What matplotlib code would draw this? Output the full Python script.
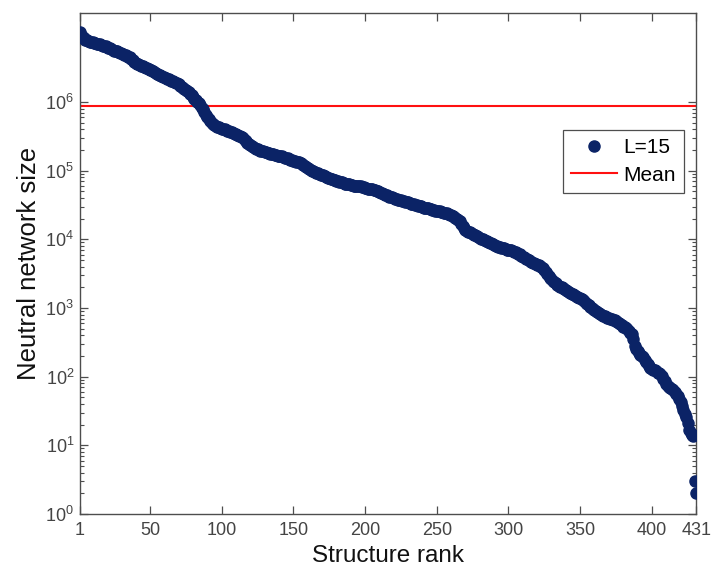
import numpy as np
import matplotlib
matplotlib.use("Agg")
import matplotlib.pyplot as plt
from matplotlib.ticker import FixedLocator, NullFormatter, LogFormatterSciNotation

plt.rcParams['font.family'] = ['Liberation Sans', 'DejaVu Sans']
plt.rcParams['mathtext.default'] = 'regular'

# log10 of neutral network size, structures ordered by rank (1..431)
size_log10 = [
    7.02, 6.98, 6.95, 6.93, 6.91, 6.90, 6.89, 6.88, 6.88, 6.87,
    6.86, 6.86, 6.85, 6.84, 6.84, 6.83, 6.82, 6.81, 6.81, 6.80,
    6.79, 6.78, 6.77, 6.76, 6.75, 6.75, 6.74, 6.73, 6.72, 6.71,
    6.70, 6.69, 6.68, 6.67, 6.66, 6.65, 6.63, 6.61, 6.59, 6.57,
    6.56, 6.55, 6.54, 6.53, 6.52, 6.51, 6.50, 6.49, 6.48, 6.47,
    6.46, 6.45, 6.44, 6.42, 6.41, 6.40, 6.39, 6.38, 6.37, 6.36,
    6.35, 6.34, 6.33, 6.32, 6.31, 6.30, 6.29, 6.28, 6.27, 6.26,
    6.24, 6.22, 6.21, 6.19, 6.18, 6.16, 6.14, 6.12, 6.10, 6.07,
    6.05, 6.03, 6.00, 5.98, 5.95, 5.92, 5.90, 5.85, 5.81, 5.78,
    5.76, 5.73, 5.70, 5.68, 5.66, 5.65, 5.64, 5.63, 5.62, 5.61,
    5.60, 5.60, 5.59, 5.58, 5.58, 5.57, 5.56, 5.55, 5.54, 5.53,
    5.52, 5.51, 5.50, 5.49, 5.47, 5.45, 5.43, 5.41, 5.39, 5.37,
    5.36, 5.35, 5.33, 5.32, 5.31, 5.30, 5.29, 5.28, 5.28, 5.27,
    5.27, 5.26, 5.26, 5.25, 5.24, 5.24, 5.23, 5.23, 5.22, 5.22,
    5.21, 5.21, 5.20, 5.19, 5.18, 5.18, 5.17, 5.16, 5.15, 5.14,
    5.14, 5.13, 5.12, 5.12, 5.11, 5.10, 5.08, 5.07, 5.05, 5.04,
    5.02, 5.01, 5.00, 4.99, 4.98, 4.97, 4.96, 4.95, 4.94, 4.93,
    4.93, 4.92, 4.91, 4.90, 4.89, 4.88, 4.88, 4.87, 4.86, 4.85,
    4.85, 4.84, 4.83, 4.83, 4.82, 4.81, 4.81, 4.80, 4.80, 4.79,
    4.79, 4.78, 4.78, 4.78, 4.77, 4.77, 4.77, 4.76, 4.76, 4.75,
    4.75, 4.74, 4.74, 4.73, 4.73, 4.72, 4.72, 4.71, 4.70, 4.69,
    4.68, 4.67, 4.66, 4.65, 4.64, 4.63, 4.62, 4.61, 4.61, 4.60,
    4.59, 4.59, 4.58, 4.57, 4.57, 4.56, 4.56, 4.55, 4.54, 4.54,
    4.53, 4.52, 4.52, 4.51, 4.50, 4.50, 4.49, 4.48, 4.48, 4.47,
    4.46, 4.46, 4.45, 4.45, 4.44, 4.44, 4.43, 4.43, 4.42, 4.42,
    4.41, 4.41, 4.40, 4.40, 4.39, 4.39, 4.38, 4.37, 4.36, 4.35,
    4.34, 4.33, 4.31, 4.29, 4.28, 4.26, 4.23, 4.20, 4.17, 4.14,
    4.12, 4.11, 4.10, 4.09, 4.08, 4.07, 4.06, 4.05, 4.04, 4.02,
    4.01, 4.00, 3.99, 3.98, 3.97, 3.96, 3.95, 3.94, 3.93, 3.92,
    3.91, 3.90, 3.89, 3.89, 3.88, 3.87, 3.87, 3.86, 3.85, 3.85,
    3.84, 3.84, 3.83, 3.82, 3.81, 3.80, 3.79, 3.78, 3.76, 3.75,
    3.74, 3.72, 3.71, 3.70, 3.68, 3.67, 3.66, 3.65, 3.64, 3.63,
    3.62, 3.61, 3.60, 3.58, 3.56, 3.53, 3.50, 3.47, 3.44, 3.42,
    3.40, 3.38, 3.36, 3.34, 3.32, 3.31, 3.30, 3.29, 3.28, 3.26,
    3.25, 3.24, 3.22, 3.21, 3.20, 3.19, 3.18, 3.16, 3.15, 3.14,
    3.13, 3.11, 3.10, 3.08, 3.06, 3.04, 3.02, 3.00, 2.98, 2.97,
    2.95, 2.94, 2.92, 2.91, 2.90, 2.89, 2.88, 2.87, 2.86, 2.85,
    2.84, 2.84, 2.83, 2.82, 2.81, 2.80, 2.78, 2.76, 2.75, 2.73,
    2.72, 2.71, 2.69, 2.66, 2.64, 2.62, 2.55, 2.45, 2.40, 2.38,
    2.35, 2.32, 2.30, 2.28, 2.25, 2.22, 2.18, 2.15, 2.13, 2.11,
    2.10, 2.09, 2.08, 2.06, 2.05, 2.04, 2.01, 1.97, 1.93, 1.89,
    1.87, 1.85, 1.83, 1.82, 1.80, 1.78, 1.75, 1.72, 1.68, 1.63,
    1.58, 1.52, 1.45, 1.41, 1.32, 1.23, 1.18, 1.15, 1.13, 0.48,
    0.30,
]
mean_size = 8.9e5
series_label = "L=15"
mean_label = "Mean"
x_ticks = [1, 50, 100, 150, 200, 250, 300, 350, 400, 431]
y_major = [1e0, 1e1, 1e2, 1e3, 1e4, 1e5, 1e6]

rank = np.arange(1, len(size_log10) + 1)
size = 10.0 ** np.array(size_log10)

fig = plt.figure(figsize=(7.22, 5.67), dpi=100)
ax = fig.add_axes([0.1104, 0.0935, 0.854, 0.8841])

navy = '#0b2366'
ax.plot(rank, size, linestyle='none', marker='o', markersize=8,
        markerfacecolor=navy, markeredgecolor=navy, label=series_label, zorder=3)
ax.axhline(mean_size, color='#ff1010', linewidth=1.5, label=mean_label, zorder=2)

ax.set_yscale('log')
ax.set_xlim(1, 431)
ax.set_ylim(1, 2e7)

ax.set_xticks(x_ticks)
ax.set_xticklabels([str(t) for t in x_ticks])
ax.yaxis.set_major_locator(FixedLocator(y_major))
ax.yaxis.set_major_formatter(LogFormatterSciNotation())
minor = [m * 10.0 ** e for e in range(0, 6) for m in range(2, 10)]
ax.yaxis.set_minor_locator(FixedLocator(minor))
ax.yaxis.set_minor_formatter(NullFormatter())

axis_gray = '#4d4d4d'
for s in ax.spines.values():
    s.set_color(axis_gray)
    s.set_linewidth(1.0)
ax.tick_params(which='both', direction='in', top=True, right=True,
               color=axis_gray, labelcolor='#444444', labelsize=13)
ax.tick_params(which='major', length=6, width=0.9)
ax.tick_params(which='minor', length=3, width=0.8)
ax.tick_params(axis='x', pad=6)
ax.tick_params(axis='y', pad=4)

ax.set_xlabel('Structure rank', fontsize=17.5, color='#111111', labelpad=4)
ax.set_ylabel('Neutral network size', fontsize=18.5, color='#111111', labelpad=3)

leg = ax.legend(loc='upper right', bbox_to_anchor=(0.98, 0.766), fontsize=15,
                frameon=True, fancybox=False, handlelength=2.2, handletextpad=0.3,
                borderpad=0.4, labelspacing=0.4, borderaxespad=0.0, numpoints=1)
leg.get_frame().set_edgecolor('#222222')
leg.get_frame().set_linewidth(0.9)

fig.savefig('out.png', dpi=100)
